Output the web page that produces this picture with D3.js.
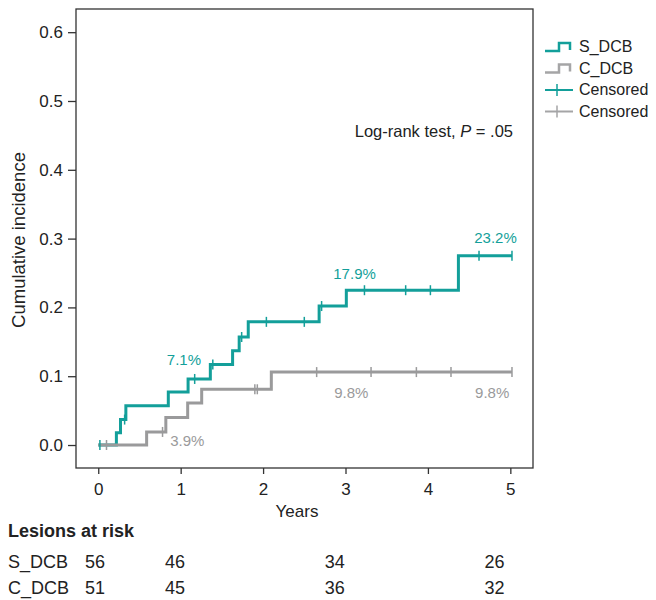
<!DOCTYPE html>
<html>
<head>
<meta charset="utf-8">
<script src="https://cdn.jsdelivr.net/npm/d3@7"></script>
<style>
  html, body { margin: 0; padding: 0; background: #fff; }
  svg { display: block; font-family: "Liberation Sans", Arial, Helvetica, sans-serif; }
</style>
</head>
<body>
<svg id="chart" width="656" height="600"></svg>
<script>
// ---------- data ----------
const sTimes  = [0, 0.22, 0.27, 0.335, 0.85, 1.09, 1.36, 1.63, 1.71, 1.82, 2.68, 3.01, 4.37];
const sValues = [0, 0.018, 0.037, 0.057, 0.077, 0.096, 0.117, 0.137, 0.157, 0.179, 0.202, 0.225, 0.275];
const sEnd = 5.02;
const sCensor = [0.02, 0.32, 1.17, 1.39, 1.74, 2.04, 2.50, 2.71, 3.23, 3.73, 4.03, 4.62, 5.02];

const cTimes  = [0, 0.587, 0.82, 1.085, 1.255, 2.10];
const cValues = [0, 0.019, 0.040, 0.061, 0.081, 0.106];
const cEnd = 5.02;
const cCensor = [0.10, 0.78, 1.90, 1.93, 2.65, 3.31, 3.86, 4.28, 5.02];

const xTicks = [0, 1, 2, 3, 4, 5];
const yTicks = [0, 0.1, 0.2, 0.3, 0.4, 0.5, 0.6];

const sLabels = [{t: 1.04, v: 0.116, text: "7.1%"}, {t: 3.11, v: 0.242, text: "17.9%"}, {t: 4.82, v: 0.293, text: "23.2%"}];
const cLabels = [{t: 1.08, v: -0.002, text: "3.9%"}, {t: 3.07, v: 0.068, text: "9.8%"}, {t: 4.78, v: 0.068, text: "9.8%"}];

const riskTimes = [0, 1, 3, 5];
const riskS = [56, 46, 34, 26];
const riskC = [51, 45, 36, 32];
const groups = ["S_DCB", "C_DCB"];

// ---------- styles ----------
const teal = "#139f9a";
const grey = "#9a9a9b";
const ink = "#222";

const svg = d3.select("#chart");
const L = 76, R = 533, T = 9, B = 468;
const x = d3.scaleLinear().domain([-0.27, 5.275]).range([L, R]);
const y = d3.scaleLinear().domain([-0.0334, 0.6337]).range([B, T]);

// frame
svg.append("rect").attr("x", L).attr("y", T).attr("width", R - L).attr("height", B - T)
  .attr("fill", "none").attr("stroke", "#333").attr("stroke-width", 1.3);

// axes
const yAxis = svg.append("g").attr("transform", `translate(${L},0)`)
  .call(d3.axisLeft(y).tickValues(yTicks).tickFormat(d3.format(".1f")).tickSize(8).tickPadding(5));
const xAxis = svg.append("g").attr("transform", `translate(0,${B})`)
  .call(d3.axisBottom(x).tickValues(xTicks).tickFormat(d3.format("d")).tickSize(6).tickPadding(9));
[yAxis, xAxis].forEach(g => {
  g.select(".domain").remove();
  g.selectAll(".tick line").attr("stroke", "#333").attr("stroke-width", 1.3);
  g.selectAll(".tick text").attr("fill", ink).style("font-size", "17px")
    .style("font-family", "'Liberation Sans', Arial, sans-serif");
});

// axis titles
svg.append("text").attr("x", 297).attr("y", 517).attr("text-anchor", "middle")
  .attr("fill", ink).style("font-size", "17px").text("Years");
svg.append("text").attr("transform", `translate(25,240) rotate(-90)`)
  .attr("text-anchor", "middle").attr("fill", ink).style("font-size", "18.5px").text("Cumulative incidence");

// step lines
function stepPoints(times, values, end) {
  const pts = times.map((t, i) => [t, values[i]]);
  pts.push([end, values[values.length - 1]]);
  return pts;
}
const line = d3.line().x(d => x(d[0])).y(d => y(d[1])).curve(d3.curveStepAfter);
function valueAt(times, values, t) {
  const i = d3.bisectRight(times, t) - 1;
  return values[Math.max(0, i)];
}

svg.append("path").datum(stepPoints(sTimes, sValues, sEnd)).attr("d", line)
  .attr("fill", "none").attr("stroke", teal).attr("stroke-width", 3);
svg.append("path").datum(stepPoints(cTimes, cValues, cEnd)).attr("d", line)
  .attr("fill", "none").attr("stroke", grey).attr("stroke-width", 3);

function drawCensor(times, values, cens, color) {
  svg.append("g").selectAll("line").data(cens).join("line")
    .attr("x1", d => x(d)).attr("x2", d => x(d))
    .attr("y1", d => y(valueAt(times, values, d)) - 5)
    .attr("y2", d => y(valueAt(times, values, d)) + 5)
    .attr("stroke", color).attr("stroke-width", 1.5);
}
drawCensor(sTimes, sValues, sCensor, teal);
drawCensor(cTimes, cValues, cCensor, grey);

// percentage labels
function drawLabels(arr, color) {
  svg.append("g").selectAll("text").data(arr).join("text")
    .attr("x", d => x(d.t)).attr("y", d => y(d.v)).attr("text-anchor", "middle")
    .attr("fill", color).style("font-size", "15px").text(d => d.text);
}
drawLabels(sLabels, teal);
drawLabels(cLabels, grey);

// log-rank annotation
const lr = svg.append("text").attr("x", 513).attr("y", 137).attr("text-anchor", "end")
  .attr("fill", ink).style("font-size", "16.5px");
lr.append("tspan").text("Log-rank test, ");
lr.append("tspan").style("font-style", "italic").text("P");
lr.append("tspan").text(" = .05");

// legend
const lg = svg.append("g");
const legendItems = [
  {type: "step", color: teal, label: "S_DCB"},
  {type: "step", color: "#a5a5a6", label: "C_DCB"},
  {type: "cens", color: teal, label: "Censored"},
  {type: "cens", color: "#a5a5a6", label: "Censored"}
];
legendItems.forEach((it, i) => {
  const by = 52 + i * 21.5;
  const cy = by - 5;
  if (it.type === "step") {
    lg.append("path").attr("d", `M545,${cy + 4}H559V${cy - 4}H570V${cy + 3}`)
      .attr("fill", "none").attr("stroke", it.color).attr("stroke-width", 2.5);
  } else {
    lg.append("line").attr("x1", 545).attr("x2", 573).attr("y1", cy).attr("y2", cy)
      .attr("stroke", it.color).attr("stroke-width", 2);
    lg.append("line").attr("x1", 557).attr("x2", 557).attr("y1", cy - 6).attr("y2", cy + 6)
      .attr("stroke", it.color).attr("stroke-width", 1.5);
  }
  lg.append("text").attr("x", 579).attr("y", by).attr("fill", ink)
    .style("font-size", "16px").text(it.label);
});

// risk table
const xr = d3.scaleLinear().domain([0, 5]).range([95, 494.5]);
svg.append("text").attr("x", 8).attr("y", 537).attr("fill", ink)
  .style("font-size", "18px").style("font-weight", "bold").text("Lesions at risk");
[riskS, riskC].forEach((row, r) => {
  const by = 568 + r * 26;
  svg.append("text").attr("x", 8).attr("y", by).attr("fill", ink).style("font-size", "18px").text(groups[r]);
  svg.append("g").selectAll("text").data(row).join("text")
    .attr("x", (d, i) => xr(riskTimes[i])).attr("y", by).attr("text-anchor", "middle")
    .attr("fill", ink).style("font-size", "18px").text(d => d);
});
</script>
</body>
</html>
